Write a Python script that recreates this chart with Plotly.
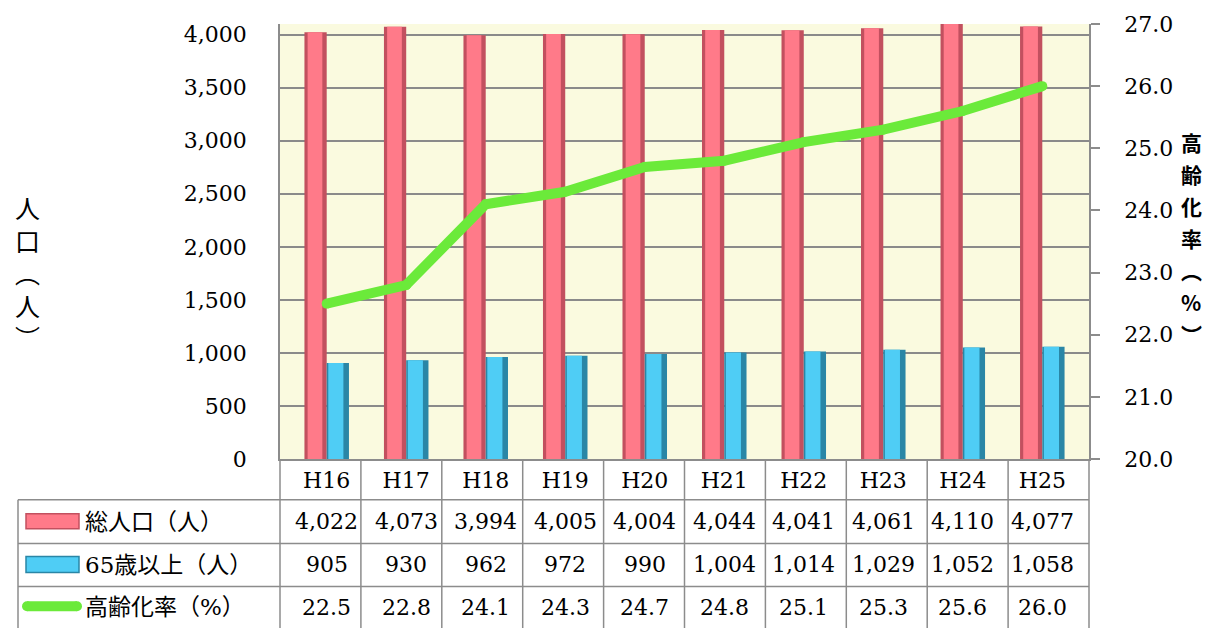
import plotly.graph_objects as go

# ---- data ----
categories = ["H16", "H17", "H18", "H19", "H20", "H21", "H22", "H23", "H24", "H25"]
total_pop = [4022, 4073, 3994, 4005, 4004, 4044, 4041, 4061, 4110, 4077]
elderly_pop = [905, 930, 962, 972, 990, 1004, 1014, 1029, 1052, 1058]
aging_rate = [22.5, 22.8, 24.1, 24.3, 24.7, 24.8, 25.1, 25.3, 25.6, 26.0]
series_names = ["総人口（人）", "65歳以上（人）", "高齢化率（%）"]
left_title = "人<br>口<br>︵<br>人<br>︶"
right_title_chars = ["高", "齢", "化", "率", "︵", "%", "︶"]

# ---- layout geometry (pixels) ----
FW, FH = 1215, 628
L, R, T, B = 280, 1089, 22, 459
PW, PH = R - L, B - T


def px(x):
    return (x - L) / PW


def py(y):
    return (B - y) / PH


SERIF = "DejaVu Serif, Noto Sans CJK JP, serif"
CJK = "Noto Sans CJK JP, sans-serif"
GRID = "#8a8a8a"

PINK, PINK_D = "#ff7a89", "#c2505f"
BLUE, BLUE_D = "#4fcdf5", "#2a86a6"
GREEN = "#6bea3a"

BW = 0.28
fig = go.Figure()
# pink bars: dark base + lighter face
fig.add_trace(go.Bar(x=categories, y=total_pop, offset=-BW, width=BW,
                     marker=dict(color=PINK_D, line=dict(width=0)), name=series_names[0]))
fig.add_trace(go.Bar(x=categories, y=total_pop, offset=-BW + 0.04, width=BW - 0.04 - 0.055,
                     marker=dict(color=PINK, line=dict(width=0)), showlegend=False))
# blue bars
fig.add_trace(go.Bar(x=categories, y=elderly_pop, offset=0, width=BW,
                     marker=dict(color=BLUE_D, line=dict(width=0)), name=series_names[1]))
fig.add_trace(go.Bar(x=categories, y=elderly_pop, offset=0.02, width=BW - 0.02 - 0.07,
                     marker=dict(color=BLUE, line=dict(width=0)), showlegend=False))
# line
fig.add_trace(go.Scatter(x=categories, y=aging_rate, yaxis="y2", mode="lines+markers",
                         line=dict(color=GREEN, width=10),
                         marker=dict(color=GREEN, size=10, line=dict(width=0)),
                         name=series_names[2]))

shapes = []
LC = "#8c8c8c"
# table horizontal lines
for yy in (500, 544, 587):
    shapes.append(dict(type="line", xref="paper", yref="paper", x0=px(18), x1=px(R),
                       y0=py(yy), y1=py(yy), line=dict(color=LC, width=1.5)))
# table left border
shapes.append(dict(type="line", xref="paper", yref="paper", x0=px(18), x1=px(18),
                   y0=py(500), y1=py(640), line=dict(color=LC, width=1.5)))
# column lines
n = len(categories)
for k in range(n + 1):
    xx = k / n
    shapes.append(dict(type="line", xref="paper", yref="paper", x0=xx, x1=xx,
                       y0=0, y1=py(640), line=dict(color=LC, width=1.5)))
# legend swatches
shapes.append(dict(type="rect", xref="paper", yref="paper", x0=px(26), x1=px(79),
                   y0=py(529), y1=py(514), fillcolor=PINK, line=dict(color=PINK_D, width=1.5)))
shapes.append(dict(type="rect", xref="paper", yref="paper", x0=px(26), x1=px(79),
                   y0=py(573), y1=py(557), fillcolor=BLUE, line=dict(color=BLUE_D, width=1.5)))
shapes.append(dict(type="line", xref="paper", yref="paper", x0=px(27), x1=px(77),
                   y0=py(607), y1=py(607), line=dict(color=GREEN, width=10)))
shapes.append(dict(type="circle", xref="paper", yref="paper", x0=px(22), x1=px(32),
                   y0=py(612), y1=py(602), fillcolor=GREEN, line=dict(width=0)))
shapes.append(dict(type="circle", xref="paper", yref="paper", x0=px(72), x1=px(82),
                   y0=py(612), y1=py(602), fillcolor=GREEN, line=dict(width=0)))

annotations = []
row_y = [522, 565, 608]
rows = [[f"{v:,}" for v in total_pop], [f"{v:,}" for v in elderly_pop],
        [f"{v:.1f}" for v in aging_rate]]
for ry, vals, name in zip(row_y, rows, series_names):
    annotations.append(dict(xref="paper", yref="paper", x=px(83), y=py(ry), text=name,
                            showarrow=False, xanchor="left", yanchor="middle",
                            font=dict(family=SERIF, size=23, color="black")))
    for c, t in zip(categories, vals):
        annotations.append(dict(xref="x", yref="paper", x=c, y=py(ry), text=t,
                                showarrow=False, xanchor="center", yanchor="middle",
                                font=dict(family=SERIF, size=22, color="black")))
annotations.append(dict(xref="paper", yref="paper", x=px(27), y=py(271), text=left_title,
                        showarrow=False, xanchor="center", yanchor="middle",
                        font=dict(family=CJK, size=25, color="black")))
# right axis title, stacked vertically one character per row
for i, ch in enumerate(right_title_chars):
    annotations.append(dict(xref="paper", yref="paper", x=px(1191), y=py(141 + 32 * i),
                            text=ch, showarrow=False, xanchor="center", yanchor="middle",
                            font=dict(family=CJK, size=21, color="black", weight="bold")))

fig.update_layout(
    width=FW, height=FH,
    margin=dict(l=L, r=FW - R, t=T, b=FH - B, pad=0),
    paper_bgcolor="white", plot_bgcolor="#fafadf",
    barmode="overlay", showlegend=False,
    xaxis=dict(type="category", showline=True, linecolor=LC, linewidth=1.5, ticks="",
               showgrid=False, tickfont=dict(family=SERIF, size=22, color="black"),
               ticklabelstandoff=1),
    yaxis=dict(range=[0, 4100], tickvals=[0, 500, 1000, 1500, 2000, 2500, 3000, 3500, 4000],
               tickformat=",d", showgrid=True, gridcolor=GRID, gridwidth=1.5,
               showline=True, linecolor=LC, linewidth=1.5, ticks="", zeroline=False,
               tickfont=dict(family=SERIF, size=22, color="black"), ticklabelstandoff=27),
    yaxis2=dict(range=[20, 27], tickvals=[20, 21, 22, 23, 24, 25, 26, 27], tickformat=".1f",
                overlaying="y", side="right", showgrid=False, showline=True, linecolor=LC,
                linewidth=1.5, ticks="outside", ticklen=9, tickcolor=LC, tickwidth=1.5,
                zeroline=False, tickfont=dict(family=SERIF, size=22, color="black"),
                ticklabelstandoff=20),
    shapes=shapes, annotations=annotations,
)
fig.write_html("out.html", config={"displayModeBar": False},
               post_script="document.body.style.margin='0';document.body.style.padding='0';")
